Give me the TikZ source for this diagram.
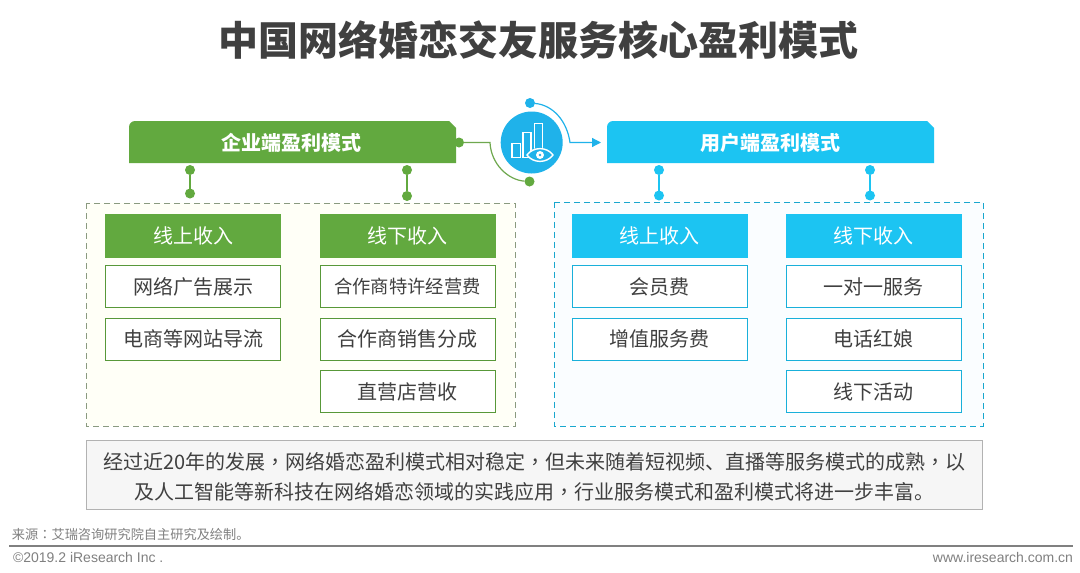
\documentclass[tikz,border=0pt]{standalone}
\usepackage{fontspec}
\setmainfont{Noto Sans CJK SC}
\newfontfamily\latinf{Liberation Sans}
\newfontfamily\tcf{Noto Sans CJK TC}
\usetikzlibrary{arrows.meta}
\definecolor{gr}{HTML}{62A93F}
\definecolor{grd}{HTML}{6FA84F}
\definecolor{bl}{HTML}{1CC4F2}
\definecolor{ic}{HTML}{1FB2EA}
\definecolor{tx}{HTML}{404040}
\definecolor{pg}{HTML}{8A9A80}
\tikzset{
 x=1pt,y=-1pt,
 every node/.style={inner sep=0pt,outer sep=0pt,text=tx},
 banner/.style={font=\fontsize{20}{24}\selectfont\bfseries,text=white},
 headbox/.style={minimum width=176pt,minimum height=44pt,font=\fontsize{20}{24}\selectfont,text=white,anchor=center},
 itembox/.style={minimum width=175pt,minimum height=42pt,fill=white,draw,line width=1pt,font=\fontsize{20}{24}\selectfont,text=tx,anchor=center},
 grh/.style={headbox,fill=gr},
 blh/.style={headbox,fill=bl},
 gri/.style={itembox,draw=gr!90!black},
 bli/.style={itembox,draw=bl!90!black},
 panel/.style={dashed,dash pattern=on 6pt off 4pt,line width=1pt},
 dot/.style={circle,minimum size=10pt},
}
\begin{document}
\begin{tikzpicture}
\useasboundingbox (0,0) rectangle (1080,573);
\fill[white] (0,0) rectangle (1080,573);
\node[font=\fontsize{40}{46}\selectfont\bfseries,text=tx] (title) at (538.5,40) {中国网络婚恋交友服务核心盈利模式};
% banners
\fill[gr] (129,163) -- (129,127) arc[start angle=180,end angle=270,radius=6] -- (449,121) -- (456,128) -- (456,163) -- cycle;
\node[banner] (b1) at (291,143) {企业端盈利模式};
\fill[bl] (607,163) -- (607,127) arc[start angle=180,end angle=270,radius=6] -- (927,121) -- (934,128) -- (934,163) -- cycle;
\node[banner] (b2) at (770,143) {用户端盈利模式};
% panels
\draw[panel,draw=pg,fill=yellow!3] (86,203) rectangle (515,426);
\draw[panel,draw=bl!85!black,fill=cyan!2] (554,202) rectangle (983,426);
% connector dots
\foreach \n/\x/\c/\ya/\yb in {g1/190/gr/170/193.5,g2/407/gr/170/196,b1d/659/bl/170/195.5,b2d/870/bl/170/195.5}{
 \node[dot,fill=\c] (\n a) at (\x,\ya) {};
 \node[dot,fill=\c] (\n b) at (\x,\yb) {};
 \draw[\c,line width=1.4pt] (\n a) -- (\n b);
}
% left
\node[grh] (h1) at (193,235.5) {线上收入};
\node[gri] (i1) at (193,286.5) {网络广告展示};
\node[gri] (i2) at (193,339) {电商等网站导流};
\node[grh] (h2) at (407.5,235.5) {线下收入};
\node[gri,font=\fontsize{18.3}{24}\selectfont] (i3) at (407.5,286.5) {合作商特许经营费};
\node[gri] (i4) at (407.5,339) {合作商销售分成};
\node[gri] (i5) at (407.5,391.5) {直营店营收};
% right
\node[blh] (h3) at (659.5,235.5) {线上收入};
\node[bli] (i6) at (659.5,286.5) {会员费};
\node[bli] (i7) at (659.5,339) {增值服务费};
\node[blh] (h4) at (873.5,235.5) {线下收入};
\node[bli] (i8) at (873.5,286.5) {一对一服务};
\node[bli] (i9) at (873.5,339) {电话红娘};
\node[bli] (i10) at (873.5,391.5) {线下活动};
% icon
\node[circle,fill=ic,minimum size=62pt] (ico) at (531.7,142.5) {};
\begin{scope}[white,line width=1.4pt]
\draw (512,143.5) rectangle (520.5,157.5);
\draw (523,132.5) rectangle (531,157.5);
\draw (534.5,123.5) rectangle (542.5,150);
\fill[ic] (527,155) .. controls (533,145) and (547,145) .. (553,155) .. controls (547,165) and (533,165) .. (527,155) -- cycle;
\draw (527,155) .. controls (533,146.5) and (547,146.5) .. (553,155) .. controls (547,163.5) and (533,163.5) .. (527,155) -- cycle;
\fill (540,155) circle (4);
\fill[ic] (540,155) circle (1.3);
\end{scope}
\node[dot,fill=ic] (d1) at (530,103) {};
\node[dot,fill=gr] (d2) at (529.5,181.5) {};
\node[dot,fill=gr] (d3) at (459,142.5) {};
\coordinate (arr) at (601,142.5);
\draw[ic,line width=1.2pt,-{Triangle[length=9pt,width=9pt]}] (d1) .. controls (553,105) and (567,121) .. (570,142.5) -- (arr);
\draw[grd,line width=1.2pt] (d3) -- (490,142.5) .. controls (491,164) and (508,180) .. (d2);
% note
\node[draw=gray!60,line width=1.2pt,fill=gray!7,minimum width=896pt,minimum height=69pt] (note) at (534.5,475) {};
\node[font=\fontsize{20}{30}\selectfont,align=center,text=tx] (notet) at (534.5,476.5) {经过近20年的发展{\tcf ，}网络婚恋盈利模式相对稳定{\tcf ，}但未来随着短视频、直播等服务模式的成熟{\tcf ，}以\\及人工智能等新科技在网络婚恋领域的实践应用{\tcf ，}行业服务模式和盈利模式将进一步丰富。};
% footer
\node[anchor=west,font=\fontsize{13.2}{15}\selectfont,text=gray] (src) at (12,534) {来源{\tcf ：}艾瑞咨询研究院自主研究及绘制。};
\coordinate (la) at (9,546);
\coordinate (lb) at (1073,546);
\draw[gray,line width=1.2pt] (la) -- (lb);
\node[anchor=west,font=\latinf\fontsize{14}{16}\selectfont,text=gray] (copy) at (13,557) {©2019.2 iResearch Inc .};
\node[anchor=east,font=\latinf\fontsize{14}{16}\selectfont,text=gray] (url) at (1073,557) {www.iresearch.com.cn};
\end{tikzpicture}
\end{document}
